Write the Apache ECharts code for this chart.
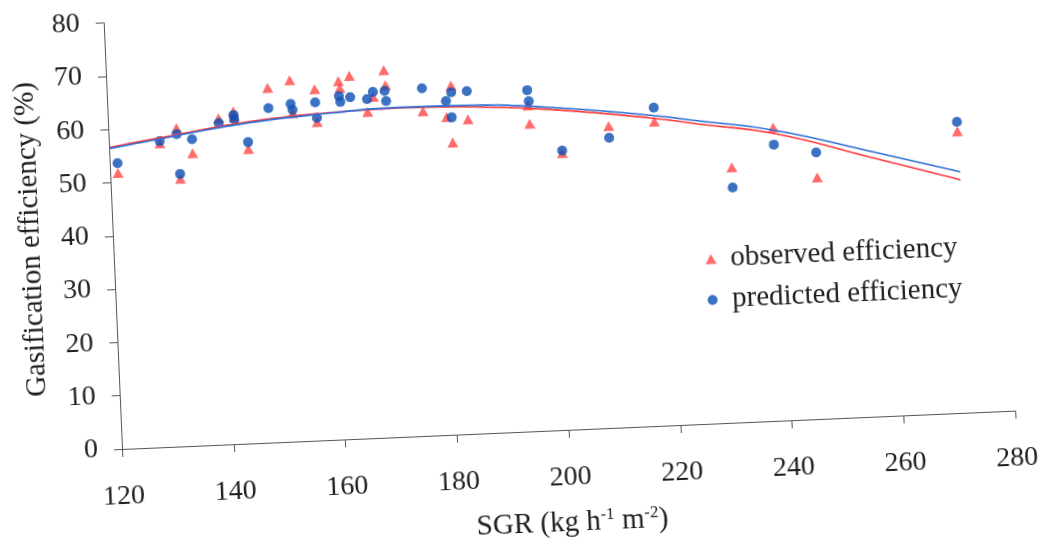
<!DOCTYPE html>
<html>
<head>
<meta charset="utf-8">
<script src="https://cdn.jsdelivr.net/npm/echarts@6/dist/echarts.min.js"></script>
<style>
  html, body { margin: 0; padding: 0; background: #ffffff; overflow: hidden; width: 1042px; height: 546px; }
  /* the whole plot sits slightly tilted, pivoting on the axes' origin */
  #chart {
    position: absolute; left: 0; top: 0; width: 1100px; height: 600px;
    transform-origin: 122px 449px;
    transform: rotate(-2.46deg);
  }
</style>
</head>
<body>
<div id="chart"></div>
<script>
// Solid gasification rate (kg h-1 m-2) for each run
const sgr = [121.4, 129.1, 132.2, 132.5, 134.9, 139.8, 142.5, 142.6, 144.9, 148.8,
             152.8, 153.1, 157.2, 157.4, 161.5, 161.7, 163.5, 166.5, 167.6, 169.7,
             169.9, 176.4, 180.6, 181.5, 181.6, 184.4, 195.2, 195.4, 201.0, 209.5,
             217.7, 231.2, 238.9, 246.4, 271.8];
// Gasification efficiency (%) measured in each run
const observed = [51.8, 57.0, 59.7, 50.2, 54.9, 61.2, 62.4, 61.3, 55.2, 66.5,
                  67.8, 61.6, 65.9, 59.7, 67.2, 65.9, 68.1, 61.2, 64.0, 68.9,
                  66.1, 60.9, 59.6, 54.8, 65.5, 59.0, 61.1, 57.7, 51.9, 56.6,
                  57.1, 47.9, 55.0, 45.3, 52.8];
// Gasification efficiency (%) given by the model for the same runs
const predicted = [53.6, 57.4, 58.6, 51.1, 57.5, 60.3, 61.7, 60.9, 56.5, 62.7,
                   63.3, 62.2, 63.4, 60.5, 64.4, 63.3, 64.1, 63.6, 64.9, 65.0,
                   63.1, 65.2, 62.6, 59.5, 64.2, 64.3, 64.0, 61.9, 52.4, 54.4,
                   59.7, 44.1, 51.8, 50.0, 54.6];

// Polynomial trend curves through both sets
const trendSgr = [120, 129, 145, 160, 172, 185, 199, 217, 226, 239, 256, 272];
const trendObserved = [56.6, 58.0, 60.3, 61.4, 61.7, 61.3, 60.2, 57.8, 56.2, 53.9, 48.7, 43.7];
const trendPredicted = [56.4, 57.8, 60.1, 61.3, 61.8, 61.6, 60.6, 58.3, 56.8, 54.5, 49.8, 45.2];

const seriesNames = ['observed efficiency', 'predicted efficiency'];

const pairs = (xs, ys) => xs.map((x, i) => [x, ys[i]]);

const FONT = 'Liberation Serif';
const INK = '#1e1e1e';
const RED = '#ff4646';
const BLUE = '#0b4fb3';

const chart = echarts.init(document.getElementById('chart'), null, { renderer: 'canvas' });

chart.setOption({
  backgroundColor: '#ffffff',
  animation: false,
  textStyle: { fontFamily: FONT, color: INK },
  grid: { left: 122, top: 22.6, width: 894, height: 426.4, containLabel: false },
  legend: {
    orient: 'vertical',
    left: 708,
    top: 265,
    itemWidth: 11,
    itemHeight: 10,
    itemGap: 12,
    data: [
      { name: seriesNames[0], icon: 'triangle' },
      { name: seriesNames[1], icon: 'circle' }
    ],
    textStyle: { fontFamily: FONT, fontSize: 29, color: INK, padding: [0, 0, 0, 9] }
  },
  xAxis: {
    type: 'value',
    min: 120,
    max: 280,
    interval: 20,
    name: 'SGR (kg h{sup|-1} m{sup|-2})',
    nameLocation: 'middle',
    nameGap: 78,
    nameTextStyle: {
      fontFamily: FONT, fontSize: 29, color: INK, lineHeight: 30,
      rich: { sup: { fontFamily: FONT, fontSize: 17, color: INK, verticalAlign: 'top', lineHeight: 17 } }
    },
    axisLine: { show: true, onZero: false, lineStyle: { color: '#555', width: 1 } },
    axisTick: { show: true, length: 8, lineStyle: { color: '#555' } },
    axisLabel: { margin: 34, fontFamily: FONT, fontSize: 28, color: INK },
    splitLine: { show: false }
  },
  yAxis: {
    type: 'value',
    min: 0,
    max: 80,
    interval: 10,
    name: 'Gasification efficiency (%)',
    nameLocation: 'middle',
    nameGap: 67,
    nameRotate: 90,
    nameTextStyle: { fontFamily: FONT, fontSize: 29, color: INK },
    axisLine: { show: true, onZero: false, lineStyle: { color: '#555', width: 1 } },
    axisTick: { show: true, length: 8, lineStyle: { color: '#555' } },
    axisLabel: { margin: 24, fontFamily: FONT, fontSize: 28, color: INK },
    splitLine: { show: false }
  },
  series: [
    {
      name: seriesNames[0],
      type: 'scatter',
      symbol: 'triangle',
      symbolSize: [11, 10],
      itemStyle: { color: RED },
      data: pairs(sgr, observed),
      z: 2
    },
    {
      name: seriesNames[1],
      type: 'scatter',
      symbol: 'circle',
      symbolSize: 10,
      itemStyle: { color: BLUE },
      data: pairs(sgr, predicted),
      z: 3
    },
    {
      name: 'observed trend',
      type: 'line',
      smooth: 0.5,
      showSymbol: false,
      lineStyle: { color: '#ff3a3a', width: 1.6 },
      data: pairs(trendSgr, trendObserved),
      z: 4
    },
    {
      name: 'predicted trend',
      type: 'line',
      smooth: 0.5,
      showSymbol: false,
      lineStyle: { color: '#2c6fd6', width: 1.6 },
      data: pairs(trendSgr, trendPredicted),
      z: 4
    }
  ]
});
</script>
</body>
</html>
